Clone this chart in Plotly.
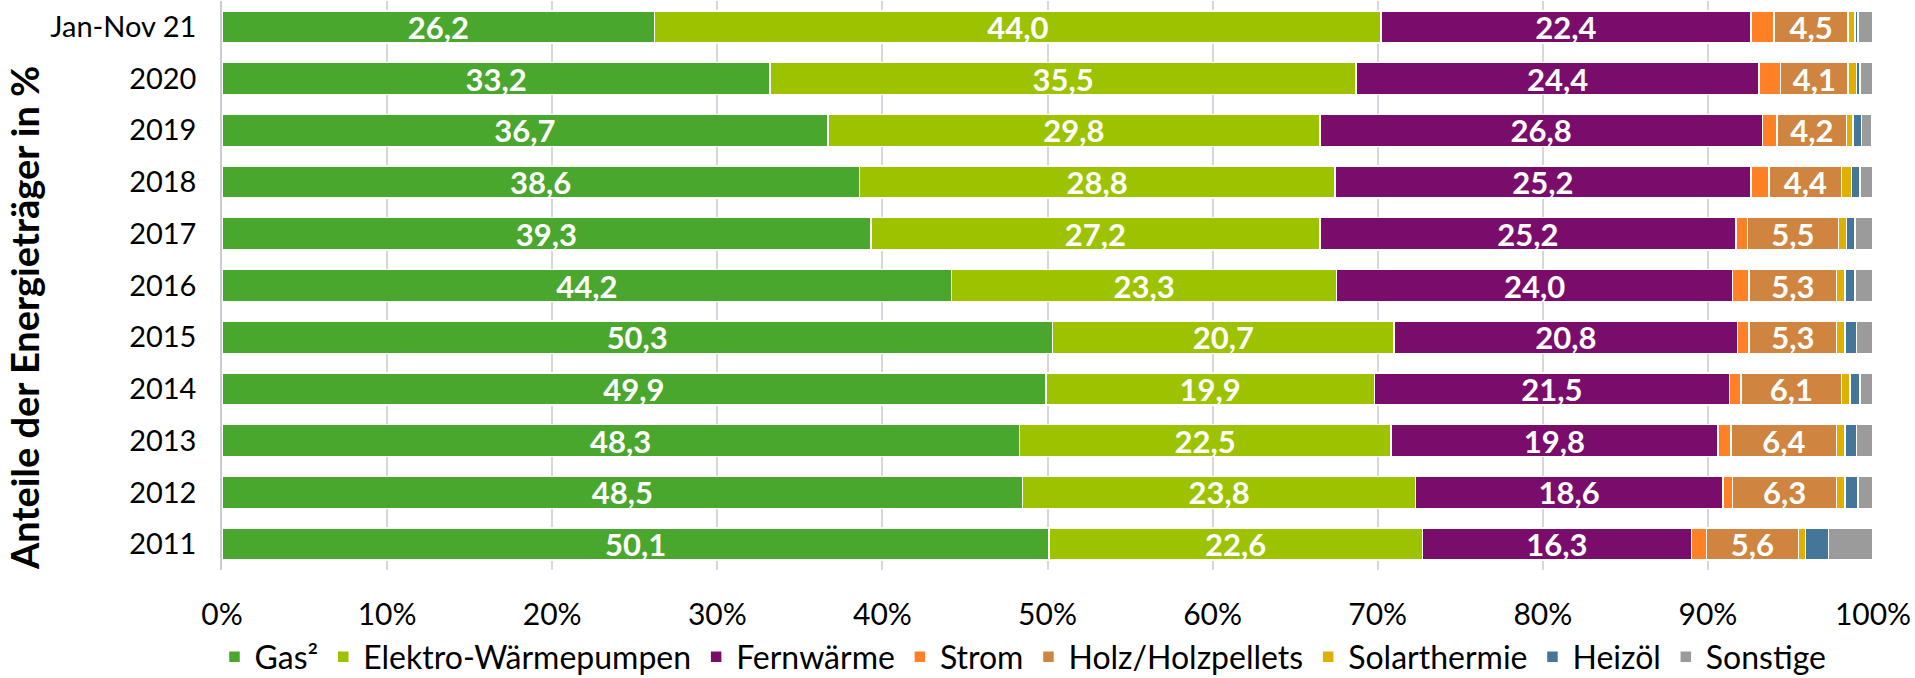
import plotly.graph_objects as go

categories = ["2011", "2012", "2013", "2014", "2015", "2016", "2017", "2018", "2019", "2020", "Jan-Nov 21"]

gas = [50.1, 48.5, 48.3, 49.9, 50.3, 44.2, 39.3, 38.6, 36.7, 33.2, 26.2]
elektro = [22.6, 23.8, 22.5, 19.9, 20.7, 23.3, 27.2, 28.8, 29.8, 35.5, 44.0]
fernwaerme = [16.3, 18.6, 19.8, 21.5, 20.8, 24.0, 25.2, 25.2, 26.8, 24.4, 22.4]
strom = [0.9, 0.6, 0.8, 0.7, 0.7, 1.0, 0.7, 1.1, 0.9, 1.3, 1.4]
holz = [5.6, 6.3, 6.4, 6.1, 5.3, 5.3, 5.5, 4.4, 4.2, 4.1, 4.5]
solar = [0.4, 0.5, 0.5, 0.5, 0.5, 0.5, 0.5, 0.6, 0.4, 0.5, 0.4]
heizoel = [1.4, 0.8, 0.7, 0.6, 0.7, 0.6, 0.5, 0.5, 0.5, 0.2, 0.2]
sonstige = [2.7, 0.9, 1.0, 0.8, 1.0, 1.1, 1.1, 0.8, 0.6, 0.8, 0.9]

series_names = ["Gas²", "Elektro-Wärmepumpen", "Fernwärme", "Strom", "Holz/Holzpellets",
                "Solarthermie", "Heizöl", "Sonstige"]
series_values = [gas, elektro, fernwaerme, strom, holz, solar, heizoel, sonstige]
series_colors = ["#4AA72E", "#9DC300", "#7A0C6C", "#FF8025", "#CF853F", "#E0B000", "#44769A", "#9B9B9B"]
labelled = [True, True, True, False, True, False, False, False]

x_ticks = list(range(0, 101, 10))
x_ticktext = [f"{t}%" for t in x_ticks]

FONT = "Lato"
W, H = 1915, 678
ML, MR, MT, MB = 222, 42, 1, 108
PW = W - ML - MR
PH = H - MT - MB

fig = go.Figure()
for name, vals, col, lab in zip(series_names, series_values, series_colors, labelled):
    txt = [f"{v:.1f}".replace(".", ",") for v in vals] if lab else None
    fig.add_trace(go.Bar(
        y=categories, x=vals, name=name, orientation="h",
        marker=dict(color=col, line=dict(color="white", width=1.5)),
        text=txt,
        textposition="inside" if lab else "none",
        insidetextanchor="middle",
        textangle=0,
        textfont=dict(family=FONT, size=31, color="white", weight="bold"),
        constraintext="none",
    ))

fig.update_layout(
    barmode="stack",
    bargap=0.38,
    width=W, height=H,
    margin=dict(l=ML, r=MR, t=MT, b=MB, autoexpand=False),
    plot_bgcolor="white", paper_bgcolor="white",
    font=dict(family=FONT, size=29, color="#000000"),
    showlegend=True,
    legend=dict(
        orientation="h",
        xref="container", x=1023 / W, xanchor="center",
        yref="container", y=1 - 657 / H, yanchor="middle",
        font=dict(family=FONT, size=32, color="#000000"),
        traceorder="normal",
        bgcolor="rgba(0,0,0,0)",
    ),
    xaxis=dict(
        range=[0, 100], tickvals=x_ticks, ticktext=x_ticktext,
        showgrid=True, gridcolor="#D3D8DE", gridwidth=1.5,
        zeroline=False, showline=False, ticks="",
        ticklabelstandoff=24, automargin=False,
        tickfont=dict(family=FONT, size=30, color="#000000"),
        fixedrange=True,
    ),
    yaxis=dict(
        categoryorder="array", categoryarray=categories,
        showgrid=False, zeroline=False,
        showline=True, linecolor="#C8CDD3", linewidth=1.5,
        ticks="", ticklabelstandoff=18, automargin=False,
        tickfont=dict(family=FONT, size=29, color="#000000"),
        fixedrange=True,
    ),
    annotations=[dict(
        text="Anteile der Energieträger in %", textangle=-90,
        xref="paper", yref="paper", x=(24 - ML) / PW, y=(MT + PH - 318) / PH,
        xanchor="center", yanchor="middle", showarrow=False,
        font=dict(family=FONT, size=38, color="#000000", weight="bold"),
    )],
)

fig.write_html(
    "out.html",
    config={"displayModeBar": False},
    post_script="document.documentElement.style.margin='0';document.body.style.margin='0';"
                "document.body.style.padding='0';document.body.style.overflow='hidden';",
)
